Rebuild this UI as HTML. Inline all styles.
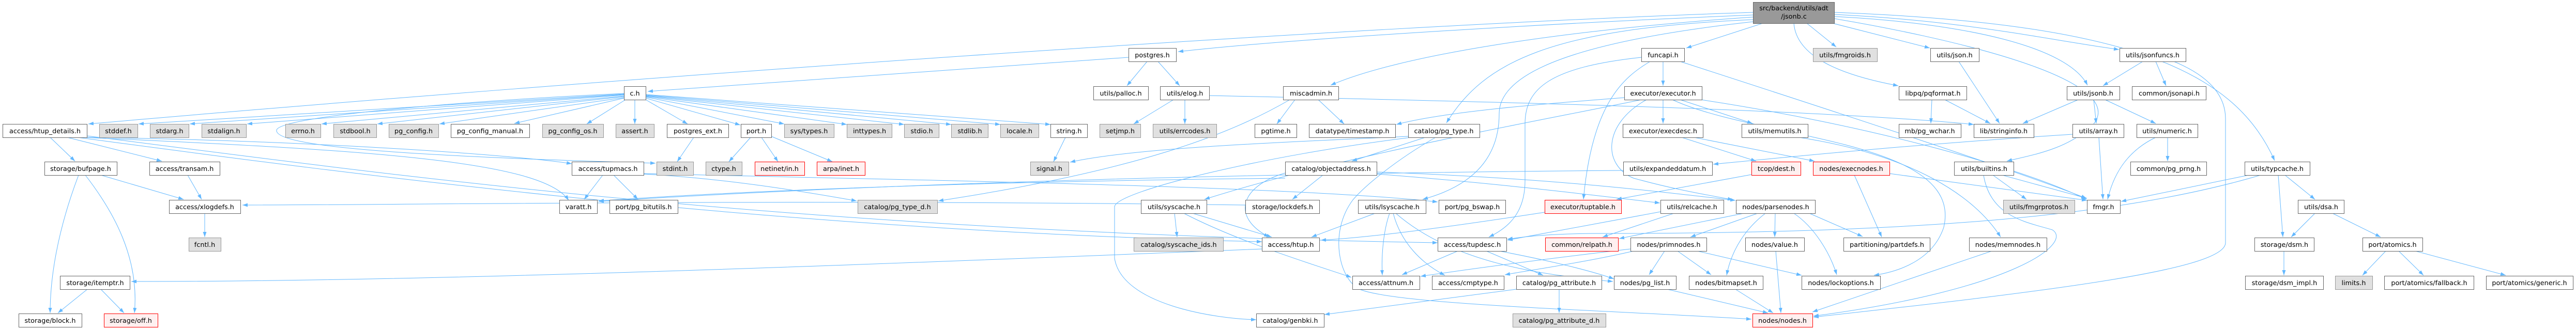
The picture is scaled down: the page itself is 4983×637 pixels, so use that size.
<!DOCTYPE html>
<html><head><meta charset="utf-8"><style>
html,body{margin:0;padding:0;background:#fff;}
svg{display:block;}
.w{fill:#fff;stroke:#666;stroke-width:1}
.g{fill:#e0e0e0;stroke:#999;stroke-width:1}
.r{fill:#fff0f0;stroke:#f00;stroke-width:1}
.k{fill:#999;stroke:#666;stroke-width:1}
text{font-family:"DejaVu Sans","Liberation Sans",sans-serif;font-size:12.8px;fill:#000;text-anchor:middle}
.e path{fill:none;stroke:#63b8ff;stroke-width:1}
</style></head><body>
<svg width="4983" height="637" viewBox="0 0 4983 637" xmlns="http://www.w3.org/2000/svg">
<defs><marker id="a" viewBox="0 0 10 7" markerWidth="10" markerHeight="7" refX="10" refY="3.5" orient="auto" markerUnits="userSpaceOnUse"><path d="M0,0 L10,3.5 L0,7 z" fill="#63b8ff"/></marker></defs>
<g class="e" marker-end="url(#a)">
<path marker-end="url(#a)" d="M3391,24 C2600,50 1200,150 171,240"/>
<path marker-end="url(#a)" d="M3391,29 C3000,45 2500,75 2279,100"/>
<path marker-end="url(#a)" d="M3391,33 C3000,60 2700,110 2574,165"/>
<path marker-end="url(#a)" d="M3391,38 C3000,55 2870,120 2798,238"/>
<path marker-end="url(#a)" d="M3391,42 C3050,80 2900,140 2900,220 C2900,320 2830,365 2752,386"/>
<path marker-end="url(#a)" d="M3410,45 L3262,93"/>
<path marker-end="url(#a)" d="M3495,45 L3552,91"/>
<path marker-end="url(#a)" d="M3545,45 L3733,93"/>
<path marker-end="url(#a)" d="M3470,45 C3475,110 3560,145 3672,166"/>
<path marker-end="url(#a)" d="M3548,28 C3800,40 3950,75 4099,96"/>
<path marker-end="url(#a)" d="M3548,32 C3800,45 4000,90 4038,165"/>
<path marker-end="url(#a)" d="M3548,36 C3750,70 4120,150 4050,240 C4000,290 3930,300 3882,312"/>
<path marker-end="url(#a)" d="M3548,24 C4100,45 4320,130 4400,311"/>
<path marker-end="url(#a)" d="M2183,111 L1253,177"/>
<path marker-end="url(#a)" d="M2219,119 L2180,166"/>
<path marker-end="url(#a)" d="M2240,119 L2282,166"/>
<path marker-end="url(#a)" d="M1207,182 L268,240"/>
<path marker-end="url(#a)" d="M1207,183 L367,240"/>
<path marker-end="url(#a)" d="M1207,184 L478,240"/>
<path marker-end="url(#a)" d="M1207,186 L622,240"/>
<path marker-end="url(#a)" d="M1207,187 L730,240"/>
<path marker-end="url(#a)" d="M1207,189 L850,240"/>
<path marker-end="url(#a)" d="M1207,190 L995,239"/>
<path marker-end="url(#a)" d="M1210,193 L1135,240"/>
<path marker-end="url(#a)" d="M1228,193 L1228,240"/>
<path marker-end="url(#a)" d="M1249,193 L1330,240"/>
<path marker-end="url(#a)" d="M1249,190 L1432,242"/>
<path marker-end="url(#a)" d="M1249,188 L1517,240"/>
<path marker-end="url(#a)" d="M1249,187 L1638,241"/>
<path marker-end="url(#a)" d="M1249,186 L1749,241"/>
<path marker-end="url(#a)" d="M1249,185 L1840,241"/>
<path marker-end="url(#a)" d="M1249,184 L1935,241"/>
<path marker-end="url(#a)" d="M1249,183 L2032,241"/>
<path marker-end="url(#a)" d="M1207,181 C900,195 540,225 535,252 C530,290 900,305 1268,316"/>
<path marker-end="url(#a)" d="M1342,266 L1310,313"/>
<path marker-end="url(#a)" d="M1452,266 L1410,313"/>
<path marker-end="url(#a)" d="M1473,266 L1505,313"/>
<path marker-end="url(#a)" d="M1492,264 L1610,313"/>
<path marker-end="url(#a)" d="M2061,266 L2038,313"/>
<path marker-end="url(#a)" d="M2270,193 L2193,240"/>
<path marker-end="url(#a)" d="M2292,193 L2292,240"/>
<path marker-end="url(#a)" d="M2339,185 C2800,195 3500,210 3818,241"/>
<path marker-end="url(#a)" d="M2505,193 L2470,240"/>
<path marker-end="url(#a)" d="M2550,193 L2600,240"/>
<path marker-end="url(#a)" d="M2495,193 C2380,260 2200,330 1815,389"/>
<path marker-end="url(#a)" d="M2724,264 C2500,275 2200,285 2070,314"/>
<path marker-end="url(#a)" d="M2757,266 L2615,312"/>
<path marker-end="url(#a)" d="M2730,266 C2450,300 2160,370 2156,400 L2156,500 C2170,590 2350,617 2430,619"/>
<path marker-end="url(#a)" d="M2777,266 C2700,310 2640,360 2617,387 C2570,450 2590,540 2630,560 C2700,590 3100,600 3388,618"/>
<path marker-end="url(#a)" d="M3142,189 C3000,200 2800,215 2701,241"/>
<path marker-end="url(#a)" d="M97,266 L145,312"/>
<path marker-end="url(#a)" d="M130,266 L313,312"/>
<path marker-end="url(#a)" d="M168,266 C600,272 1000,300 1106,317"/>
<path marker-end="url(#a)" d="M160,266 C700,290 1050,310 1100,388"/>
<path marker-end="url(#a)" d="M150,266 C700,340 1500,446 2441,468"/>
<path marker-end="url(#a)" d="M168,263 C700,330 1500,448 2781,470"/>
<path marker-end="url(#a)" d="M152,339 C110,450 97,540 97,606"/>
<path marker-end="url(#a)" d="M165,339 C220,410 270,500 260,606"/>
<path marker-end="url(#a)" d="M195,339 L355,386"/>
<path marker-end="url(#a)" d="M363,339 L390,386"/>
<path marker-end="url(#a)" d="M396,413 L396,459"/>
<path marker-end="url(#a)" d="M2409,397 C1500,385 800,397 469,397"/>
<path marker-end="url(#a)" d="M2441,482 C1500,520 800,545 254,545"/>
<path marker-end="url(#a)" d="M169,560 L112,606"/>
<path marker-end="url(#a)" d="M195,560 L240,606"/>
<path marker-end="url(#a)" d="M1166,339 L1130,386"/>
<path marker-end="url(#a)" d="M1187,339 L1234,386"/>
<path marker-end="url(#a)" d="M1245,337 C1400,345 1550,370 1657,389"/>
<path marker-end="url(#a)" d="M1245,336 C1800,350 2500,360 2781,391"/>
<path marker-end="url(#a)" d="M2486,345 C2000,350 1500,365 1158,389"/>
<path marker-end="url(#a)" d="M2272,413 L2277,459"/>
<path marker-end="url(#a)" d="M2307,413 L2460,459"/>
<path marker-end="url(#a)" d="M2290,413 C2400,470 2550,515 2614,537"/>
<path marker-end="url(#a)" d="M3175,193 C3000,230 2600,300 2330,386"/>
<path marker-end="url(#a)" d="M2486,335 C2400,360 2380,420 2455,459"/>
<path marker-end="url(#a)" d="M2559,339 L2500,386"/>
<path marker-end="url(#a)" d="M2663,333 C3000,345 3200,370 3357,388"/>
<path marker-end="url(#a)" d="M2663,337 C2900,355 3100,380 3211,393"/>
<path marker-end="url(#a)" d="M2660,413 L2537,459"/>
<path marker-end="url(#a)" d="M2688,413 C2675,450 2672,500 2674,533"/>
<path marker-end="url(#a)" d="M2695,413 C2710,470 2750,510 2795,533"/>
<path marker-end="url(#a)" d="M2700,413 C2800,500 2950,530 3120,545"/>
<path marker-end="url(#a)" d="M2820,486 L2712,532"/>
<path marker-end="url(#a)" d="M2875,486 L2985,533"/>
<path marker-end="url(#a)" d="M2900,486 C3000,505 3080,525 3122,540"/>
<path marker-end="url(#a)" d="M3175,111 C3000,130 2950,170 2950,240 L2950,350 C2950,410 2920,440 2880,459"/>
<path marker-end="url(#a)" d="M3217,119 L3217,166"/>
<path marker-end="url(#a)" d="M3192,119 C3140,150 3080,200 3063,386"/>
<path marker-end="url(#a)" d="M3250,119 C3500,200 3900,330 4036,384"/>
<path marker-end="url(#a)" d="M3217,193 L3217,239"/>
<path marker-end="url(#a)" d="M3250,193 L3390,239"/>
<path marker-end="url(#a)" d="M3185,193 C3100,240 3100,320 3160,345 C3250,370 3320,380 3352,387"/>
<path marker-end="url(#a)" d="M3290,193 C3600,240 3900,320 4036,386"/>
<path marker-end="url(#a)" d="M3235,193 C3400,270 3800,270 3760,440 C3740,500 3680,525 3625,533"/>
<path marker-end="url(#a)" d="M3253,266 L3397,312"/>
<path marker-end="url(#a)" d="M3277,266 L3510,312"/>
<path marker-end="url(#a)" d="M3480,266 C3700,300 3820,380 3870,459"/>
<path marker-end="url(#a)" d="M4009,260 C3700,280 3500,300 3314,318"/>
<path marker-end="url(#a)" d="M3140,330 C2500,335 1800,350 1158,390"/>
<path marker-end="url(#a)" d="M3388,338 L3127,386"/>
<path marker-end="url(#a)" d="M3238,413 L3100,459"/>
<path marker-end="url(#a)" d="M3212,410 C3100,430 3000,450 2916,465"/>
<path marker-end="url(#a)" d="M3400,413 L3270,459"/>
<path marker-end="url(#a)" d="M3434,413 L3433,459"/>
<path marker-end="url(#a)" d="M3415,413 C3380,440 3350,480 3340,533"/>
<path marker-end="url(#a)" d="M3373,413 L3132,462"/>
<path marker-end="url(#a)" d="M3500,413 L3603,458"/>
<path marker-end="url(#a)" d="M3470,413 C3510,440 3540,490 3553,532"/>
<path marker-end="url(#a)" d="M3220,486 L3190,532"/>
<path marker-end="url(#a)" d="M3245,486 L3310,532"/>
<path marker-end="url(#a)" d="M3283,486 L3485,533"/>
<path marker-end="url(#a)" d="M3435,486 L3445,606"/>
<path marker-end="url(#a)" d="M3225,560 L3420,606"/>
<path marker-end="url(#a)" d="M3357,560 L3430,606"/>
<path marker-end="url(#a)" d="M3016,560 L3016,606"/>
<path marker-end="url(#a)" d="M2933,560 L2562,609"/>
<path marker-end="url(#a)" d="M3853,486 L3506,604"/>
<path marker-end="url(#a)" d="M3837,339 C3850,420 3920,430 3970,445 C4010,470 3900,560 3508,612"/>
<path marker-end="url(#a)" d="M4205,119 C4280,150 4305,190 4305,230 L4305,470 C4305,520 4000,560 3508,614"/>
<path marker-end="url(#a)" d="M3737,193 L3735,239"/>
<path marker-end="url(#a)" d="M3762,193 L3850,239"/>
<path marker-end="url(#a)" d="M3789,119 L3868,239"/>
<path marker-end="url(#a)" d="M4020,193 L3913,239"/>
<path marker-end="url(#a)" d="M3855,339 L3920,386"/>
<path marker-end="url(#a)" d="M3873,339 L4037,384"/>
<path marker-end="url(#a)" d="M3655,336 L4037,388"/>
<path marker-end="url(#a)" d="M3587,339 L3640,459"/>
<path marker-end="url(#a)" d="M4050,193 L4055,239"/>
<path marker-end="url(#a)" d="M4072,193 L4170,239"/>
<path marker-end="url(#a)" d="M4145,119 L4068,166"/>
<path marker-end="url(#a)" d="M4170,119 L4190,166"/>
<path marker-end="url(#a)" d="M4060,266 L4068,386"/>
<path marker-end="url(#a)" d="M4170,266 C4120,290 4090,330 4077,386"/>
<path marker-end="url(#a)" d="M4193,266 L4193,312"/>
<path marker-end="url(#a)" d="M4350,339 L4103,390"/>
<path marker-end="url(#a)" d="M4420,339 L4478,386"/>
<path marker-end="url(#a)" d="M4407,339 L4416,459"/>
<path marker-end="url(#a)" d="M4373,339 C4100,420 3700,452 3100,452 C3000,452 2950,458 2916,463"/>
<path marker-end="url(#a)" d="M4478,413 L4432,459"/>
<path marker-end="url(#a)" d="M4512,413 L4605,459"/>
<path marker-end="url(#a)" d="M4418,486 L4418,533"/>
<path marker-end="url(#a)" d="M4615,486 L4570,533"/>
<path marker-end="url(#a)" d="M4640,486 L4688,533"/>
<path marker-end="url(#a)" d="M4672,486 L4847,533"/>
<path marker-end="url(#a)" d="M2988,411 C2800,440 2650,460 2555,465"/>
<path marker-end="url(#a)" d="M3160,486 C3080,505 2980,520 2911,532"/>
<path marker-end="url(#a)" d="M3154,482 C3000,500 2850,520 2748,535"/>
</g>
<!-- nodes -->
<rect class="k" x="3391.5" y="4.5" width="157" height="41"/>
<text x="3470" y="20">src/backend/utils/adt</text><text x="3470" y="36">/jsonb.c</text>
<!-- R1 -->
<rect class="w" x="2183.5" y="93.5" width="92" height="26"/><text x="2229" y="111">postgres.h</text>
<rect class="w" x="3175.5" y="93.5" width="83" height="26"/><text x="3217" y="111">funcapi.h</text>
<rect class="g" x="3507.5" y="93.5" width="124" height="26"/><text x="3569" y="111">utils/fmgroids.h</text>
<rect class="w" x="3734.5" y="93.5" width="94" height="26"/><text x="3781" y="111">utils/json.h</text>
<rect class="w" x="4100.5" y="93.5" width="128" height="26"/><text x="4164" y="111">utils/jsonfuncs.h</text>
<!-- R2 -->
<rect class="w" x="1207.5" y="167.5" width="42" height="26"/><text x="1228" y="185">c.h</text>
<rect class="w" x="2115.5" y="167.5" width="106" height="26"/><text x="2168" y="185">utils/palloc.h</text>
<rect class="w" x="2244.5" y="167.5" width="95" height="26"/><text x="2292" y="185">utils/elog.h</text>
<rect class="w" x="2482.5" y="167.5" width="107" height="26"/><text x="2536" y="185">miscadmin.h</text>
<rect class="w" x="3142.5" y="167.5" width="150" height="26"/><text x="3217" y="185">executor/executor.h</text>
<rect class="w" x="3673.5" y="167.5" width="131" height="26"/><text x="3739" y="185">libpq/pqformat.h</text>
<rect class="w" x="3998.5" y="167.5" width="102" height="26"/><text x="4049" y="185">utils/jsonb.h</text>
<rect class="w" x="4124.5" y="167.5" width="143" height="26"/><text x="4196" y="185">common/jsonapi.h</text>
<!-- R3 -->
<rect class="w" x="5.5" y="240.5" width="163" height="26"/><text x="87" y="258">access/htup_details.h</text>
<rect class="g" x="192.5" y="240.5" width="74" height="26"/><text x="229" y="258">stddef.h</text>
<rect class="g" x="290.5" y="240.5" width="75" height="26"/><text x="328" y="258">stdarg.h</text>
<rect class="g" x="390.5" y="240.5" width="86" height="26"/><text x="433" y="258">stdalign.h</text>
<rect class="g" x="552.5" y="240.5" width="68" height="26"/><text x="586" y="258">errno.h</text>
<rect class="g" x="645.5" y="240.5" width="83" height="26"/><text x="687" y="258">stdbool.h</text>
<rect class="g" x="752.5" y="240.5" width="96" height="26"/><text x="800" y="258">pg_config.h</text>
<rect class="w" x="872.5" y="240.5" width="152" height="26"/><text x="948" y="258">pg_config_manual.h</text>
<rect class="g" x="1049.5" y="240.5" width="118" height="26"/><text x="1108" y="258">pg_config_os.h</text>
<rect class="g" x="1191.5" y="240.5" width="74" height="26"/><text x="1228" y="258">assert.h</text>
<rect class="w" x="1290.5" y="240.5" width="119" height="26"/><text x="1350" y="258">postgres_ext.h</text>
<rect class="w" x="1433.5" y="240.5" width="59" height="26"/><text x="1463" y="258">port.h</text>
<rect class="g" x="1517.5" y="240.5" width="96" height="26"/><text x="1565" y="258">sys/types.h</text>
<rect class="g" x="1638.5" y="240.5" width="87" height="26"/><text x="1682" y="258">inttypes.h</text>
<rect class="g" x="1749.5" y="240.5" width="67" height="26"/><text x="1783" y="258">stdio.h</text>
<rect class="g" x="1840.5" y="240.5" width="71" height="26"/><text x="1876" y="258">stdlib.h</text>
<rect class="g" x="1935.5" y="240.5" width="74" height="26"/><text x="1972" y="258">locale.h</text>
<rect class="w" x="2032.5" y="240.5" width="71" height="26"/><text x="2068" y="258">string.h</text>
<rect class="g" x="2127.5" y="240.5" width="79" height="26"/><text x="2167" y="258">setjmp.h</text>
<rect class="g" x="2230.5" y="240.5" width="123" height="26"/><text x="2292" y="258">utils/errcodes.h</text>
<rect class="w" x="2427.5" y="240.5" width="81" height="26"/><text x="2468" y="258">pgtime.h</text>
<rect class="w" x="2532.5" y="240.5" width="167" height="26"/><text x="2616" y="258">datatype/timestamp.h</text>
<rect class="w" x="2724.5" y="240.5" width="138" height="26"/><text x="2793" y="258">catalog/pg_type.h</text>
<rect class="w" x="3139.5" y="240.5" width="155" height="26"/><text x="3217" y="258">executor/execdesc.h</text>
<rect class="w" x="3369.5" y="240.5" width="128" height="26"/><text x="3433" y="258">utils/memutils.h</text>
<rect class="w" x="3673.5" y="240.5" width="120" height="26"/><text x="3733" y="258">mb/pg_wchar.h</text>
<rect class="w" x="3818.5" y="240.5" width="116" height="26"/><text x="3876" y="258">lib/stringinfo.h</text>
<rect class="w" x="4009.5" y="240.5" width="99" height="26"/><text x="4059" y="258">utils/array.h</text>
<rect class="w" x="4133.5" y="240.5" width="118" height="26"/><text x="4192" y="258">utils/numeric.h</text>
<!-- R4 -->
<rect class="w" x="86.5" y="313.5" width="140" height="26"/><text x="156" y="331">storage/bufpage.h</text>
<rect class="w" x="289.5" y="313.5" width="136" height="26"/><text x="357" y="331">access/transam.h</text>
<rect class="w" x="1106.5" y="313.5" width="139" height="26"/><text x="1176" y="331">access/tupmacs.h</text>
<rect class="g" x="1270.5" y="313.5" width="71" height="26"/><text x="1306" y="331">stdint.h</text>
<rect class="g" x="1365.5" y="313.5" width="70" height="26"/><text x="1400" y="331">ctype.h</text>
<rect class="r" x="1460.5" y="313.5" width="96" height="26"/><text x="1508" y="331">netinet/in.h</text>
<rect class="r" x="1580.5" y="313.5" width="93" height="26"/><text x="1627" y="331">arpa/inet.h</text>
<rect class="g" x="1993.5" y="313.5" width="74" height="26"/><text x="2030" y="331">signal.h</text>
<rect class="w" x="2486.5" y="313.5" width="177" height="26"/><text x="2575" y="331">catalog/objectaddress.h</text>
<rect class="w" x="3140.5" y="313.5" width="172" height="26"/><text x="3226" y="331">utils/expandeddatum.h</text>
<rect class="r" x="3388.5" y="313.5" width="95" height="26"/><text x="3436" y="331">tcop/dest.h</text>
<rect class="r" x="3507.5" y="313.5" width="148" height="26"/><text x="3581" y="331">nodes/execnodes.h</text>
<rect class="w" x="3780.5" y="313.5" width="115" height="26"/><text x="3838" y="331">utils/builtins.h</text>
<rect class="w" x="4121.5" y="313.5" width="147" height="26"/><text x="4195" y="331">common/pg_prng.h</text>
<rect class="w" x="4342.5" y="313.5" width="126" height="26"/><text x="4405" y="331">utils/typcache.h</text>
<!-- R5 -->
<rect class="w" x="327.5" y="387.5" width="138" height="26"/><text x="396" y="405">access/xlogdefs.h</text>
<rect class="w" x="1082.5" y="387.5" width="73" height="26"/><text x="1119" y="405">varatt.h</text>
<rect class="w" x="1179.5" y="387.5" width="132" height="26"/><text x="1245" y="405">port/pg_bitutils.h</text>
<rect class="g" x="1659.5" y="387.5" width="154" height="26"/><text x="1736" y="405">catalog/pg_type_d.h</text>
<rect class="w" x="2207.5" y="387.5" width="127" height="26"/><text x="2271" y="405">utils/syscache.h</text>
<rect class="w" x="2409.5" y="387.5" width="143" height="26"/><text x="2481" y="405">storage/lockdefs.h</text>
<rect class="w" x="2627.5" y="387.5" width="131" height="26"/><text x="2693" y="405">utils/lsyscache.h</text>
<rect class="w" x="2783.5" y="387.5" width="129" height="26"/><text x="2848" y="405">port/pg_bswap.h</text>
<rect class="r" x="2988.5" y="387.5" width="148" height="26"/><text x="3062" y="405">executor/tuptable.h</text>
<rect class="w" x="3212.5" y="387.5" width="122" height="26"/><text x="3273" y="405">utils/relcache.h</text>
<rect class="w" x="3358.5" y="387.5" width="153" height="26"/><text x="3435" y="405">nodes/parsenodes.h</text>
<rect class="g" x="3875.5" y="387.5" width="138" height="26"/><text x="3944" y="405">utils/fmgrprotos.h</text>
<rect class="w" x="4037.5" y="387.5" width="64" height="26"/><text x="4069" y="405">fmgr.h</text>
<rect class="w" x="4445.5" y="387.5" width="89" height="26"/><text x="4490" y="405">utils/dsa.h</text>
<!-- R6 -->
<rect class="g" x="365.5" y="460.5" width="62" height="26"/><text x="396" y="478">fcntl.h</text>
<rect class="g" x="2193.5" y="460.5" width="173" height="26"/><text x="2280" y="478">catalog/syscache_ids.h</text>
<rect class="w" x="2441.5" y="460.5" width="111" height="26"/><text x="2497" y="478">access/htup.h</text>
<rect class="w" x="2781.5" y="460.5" width="133" height="26"/><text x="2848" y="478">access/tupdesc.h</text>
<rect class="r" x="2989.5" y="460.5" width="141" height="26"/><text x="3060" y="478">common/relpath.h</text>
<rect class="w" x="3154.5" y="460.5" width="147" height="26"/><text x="3228" y="478">nodes/primnodes.h</text>
<rect class="w" x="3376.5" y="460.5" width="114" height="26"/><text x="3433" y="478">nodes/value.h</text>
<rect class="w" x="3566.5" y="460.5" width="167" height="26"/><text x="3650" y="478">partitioning/partdefs.h</text>
<rect class="w" x="3809.5" y="460.5" width="150" height="26"/><text x="3884" y="478">nodes/memnodes.h</text>
<rect class="w" x="4361.5" y="460.5" width="115" height="26"/><text x="4419" y="478">storage/dsm.h</text>
<rect class="w" x="4570.5" y="460.5" width="116" height="26"/><text x="4628" y="478">port/atomics.h</text>
<!-- R7 -->
<rect class="w" x="116.5" y="534.5" width="135" height="26"/><text x="184" y="552">storage/itemptr.h</text>
<rect class="w" x="2616.5" y="534.5" width="130" height="26"/><text x="2681" y="552">access/attnum.h</text>
<rect class="w" x="2770.5" y="534.5" width="139" height="26"/><text x="2840" y="552">access/cmptype.h</text>
<rect class="w" x="2933.5" y="534.5" width="165" height="26"/><text x="3016" y="552">catalog/pg_attribute.h</text>
<rect class="w" x="3122.5" y="534.5" width="120" height="26"/><text x="3182" y="552">nodes/pg_list.h</text>
<rect class="w" x="3267.5" y="534.5" width="143" height="26"/><text x="3339" y="552">nodes/bitmapset.h</text>
<rect class="w" x="3485.5" y="534.5" width="152" height="26"/><text x="3561" y="552">nodes/lockoptions.h</text>
<rect class="w" x="4343.5" y="534.5" width="151" height="26"/><text x="4419" y="552">storage/dsm_impl.h</text>
<rect class="g" x="4517.5" y="534.5" width="72" height="26"/><text x="4553" y="552">limits.h</text>
<rect class="w" x="4612.5" y="534.5" width="173" height="26"/><text x="4699" y="552">port/atomics/fallback.h</text>
<rect class="w" x="4809.5" y="534.5" width="168" height="26"/><text x="4893" y="552">port/atomics/generic.h</text>
<!-- R8 -->
<rect class="w" x="36.5" y="607.5" width="122" height="26"/><text x="97" y="625">storage/block.h</text>
<rect class="r" x="201.5" y="607.5" width="104" height="26"/><text x="253" y="625">storage/off.h</text>
<rect class="w" x="2430.5" y="607.5" width="131" height="26"/><text x="2496" y="625">catalog/genbki.h</text>
<rect class="g" x="2926.5" y="607.5" width="180" height="26"/><text x="3016" y="625">catalog/pg_attribute_d.h</text>
<rect class="r" x="3390.5" y="607.5" width="116" height="26"/><text x="3448" y="625">nodes/nodes.h</text>
</svg>
</body></html>
